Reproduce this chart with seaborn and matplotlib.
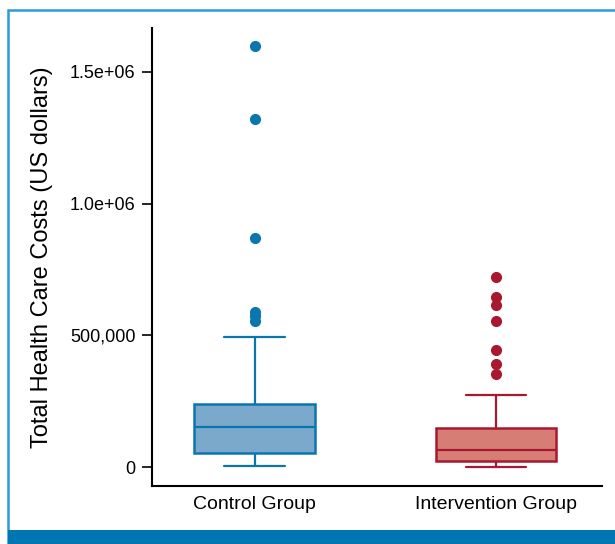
import numpy as np
import pandas as pd
import matplotlib
matplotlib.use("Agg")
import matplotlib.pyplot as plt
import seaborn as sns
from matplotlib.patches import Rectangle
from matplotlib.ticker import FixedLocator

# ---- data ----
groups = ["Control Group", "Intervention Group"]

control_costs = [4000, 15000, 24000, 31000, 37000, 42000, 46000, 50000, 53000,
                 64000, 76000, 88000, 99000, 111000, 124000, 138000, 152000,
                 163000, 174000, 185000, 196000, 207000, 218000, 229000, 239000,
                 330000, 492000,
                 553000, 572000, 590000, 871000, 1322000, 1598000]

intervention_costs = [2000, 6000, 10000, 13000, 16000, 18000, 20000, 22000, 23000,
                      28000, 33000, 38000, 44000, 50000, 55000, 60000, 64000,
                      75000, 86000, 97000, 107000, 117000, 127000, 138000, 148000,
                      273000,
                      352000, 390000, 443000, 553000, 614000, 644000, 720000]

y_ticks = [0, 500000, 1000000, 1500000]
y_tick_labels = ["0", "500,000", "1.0e+06", "1.5e+06"]
y_label = "Total Health Care Costs (US dollars)"

face_colors = ["#7BA9CB", "#D67E76"]
edge_colors = ["#0A76AE", "#A8182F"]

df = pd.DataFrame({
    "group": [groups[0]] * len(control_costs) + [groups[1]] * len(intervention_costs),
    "cost": control_costs + intervention_costs,
})

sns.set_style("white")
plt.rcParams["font.family"] = ["Liberation Sans", "DejaVu Sans"]
plt.rcParams["text.color"] = "black"
plt.rcParams["axes.labelcolor"] = "black"
plt.rcParams["xtick.color"] = "black"
plt.rcParams["ytick.color"] = "black"

fig = plt.figure(figsize=(6.15, 5.44), dpi=100)
ax = fig.add_axes([152 / 615, 1 - 486 / 544, (602 - 152) / 615, (486 - 28) / 544])

sns.boxplot(data=df, x="group", y="cost", order=groups, ax=ax, width=0.5,
            whis=1.5, linewidth=1.6, fliersize=7, saturation=1)

for i, patch in enumerate(ax.patches[:2]):
    patch.set_facecolor(face_colors[i])
    patch.set_edgecolor(edge_colors[i])
    patch.set_linewidth(1.8)

lines = ax.lines
per = len(lines) // 2
for i in range(2):
    for ln in lines[i * per:(i + 1) * per]:
        ln.set_color(edge_colors[i])
        ln.set_markerfacecolor(edge_colors[i])
        ln.set_markeredgecolor(edge_colors[i])
        if ln.get_marker() not in (None, "None", ""):
            ln.set_marker("o")
            ln.set_markersize(7)
            ln.set_linestyle("none")

ax.set_xlim(-0.425, 1.44)
ax.set_ylim(-72000, 1667000)
ax.yaxis.set_major_locator(FixedLocator(y_ticks))
ax.set_yticklabels(y_tick_labels, fontsize=13)
ax.tick_params(axis="x", labelsize=14, length=0, pad=7, labelcolor="black")
ax.tick_params(axis="y", length=7, width=1.2, color="black", left=True, pad=5,
               labelcolor="black")
ax.set_xlabel("")
ax.set_ylabel(y_label, fontsize=17, labelpad=12, color="black")

for s in ["top", "right"]:
    ax.spines[s].set_visible(False)
for s in ["left", "bottom"]:
    ax.spines[s].set_color("black")
    ax.spines[s].set_linewidth(1.5)

# decorative frame and bottom bar
fig.patches.append(Rectangle((8 / 615, 0), 1.0, 1 - 10 / 544, transform=fig.transFigure,
                             fill=False, edgecolor="#2E9AD6", linewidth=1.8, zorder=0))
fig.patches.append(Rectangle((8 / 615, 0), 1.0, 14 / 544, transform=fig.transFigure,
                             facecolor="#0077B3", edgecolor="none", zorder=1))

fig.savefig("out.png", dpi=100)
